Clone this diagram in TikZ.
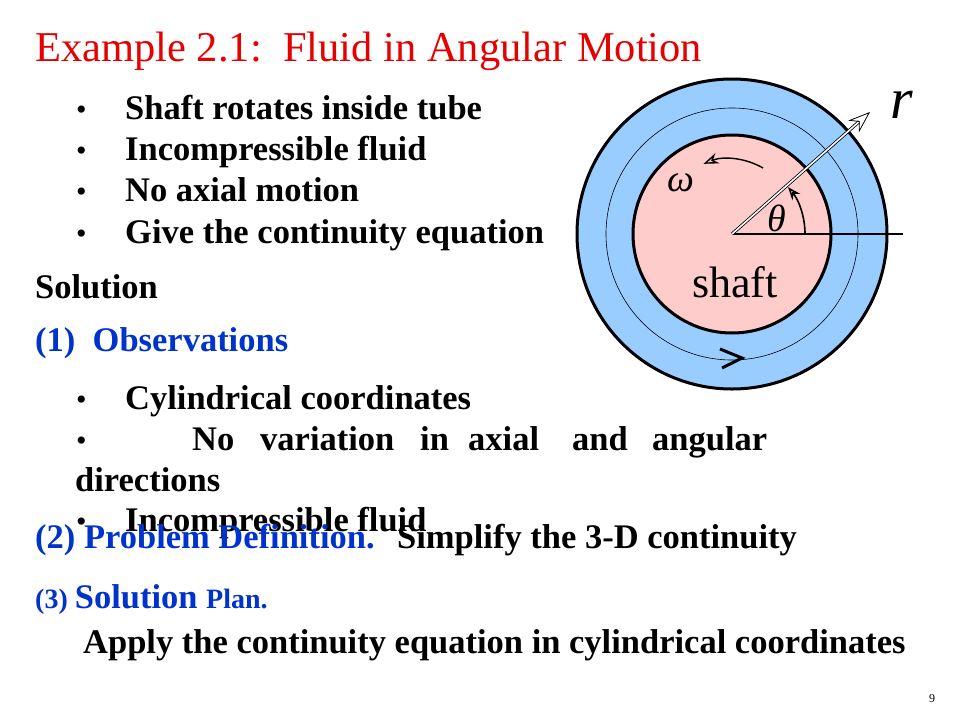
\documentclass[tikz,border=0pt]{standalone}
\usepackage{fontspec}
\setmainfont{Liberation Serif}
\usetikzlibrary{arrows.meta}
\definecolor{ttl}{RGB}{230,0,0}
\definecolor{bl}{RGB}{0,51,204}
\definecolor{ring}{RGB}{153,204,255}
\definecolor{pinkf}{RGB}{255,204,204}
\begin{document}
\begin{tikzpicture}[x=1pt,y=-1pt,
  txt/.style={anchor=base west,inner sep=0pt,font=\fontsize{34.5}{38}\selectfont\bfseries},
  btxt/.style={txt,text=bl},
  bul/.style={anchor=base west,inner sep=0pt,font=\fontsize{30}{30}\selectfont},
  dblarrow/.style={draw=black,double=white,double distance=1.6pt,line width=0.8pt,-{Stealth[open,length=22pt,width=16pt]}}]
\useasboundingbox (0,0) rectangle (960,720);
\node[anchor=base west,inner sep=0pt,text=ttl,font=\fontsize{42.5}{46}\selectfont] (title) at (35,61) {Example 2.1:\ \ Fluid in Angular Motion};
\foreach \y/\t [count=\i] in {119/Shaft rotates inside tube,160/Incompressible fluid,201/No axial motion,243/Give the continuity equation}{
  \node[bul] (bb\i) at (76,\y) {•};
  \node[txt] (b\i) at (125,\y) {\t};
}
\node[txt] (sol) at (35,298) {Solution};
\node[btxt] (obs) at (35,351) {(1)\ \ Observations};
\node[bul] (cb1) at (76,409) {•};
\node[txt] (c1) at (125,409) {Cylindrical coordinates};
\node[bul] (cb2) at (76,450) {•};
\foreach \x/\w in {192/No,260/variation,420/in,468/axial,572/and,652/angular}{
  \node[txt] at (\x,450) {\w};
}
\node[txt] (dir) at (75,491) {directions};
\node[bul] (cb3) at (76,531) {•};
\node[txt] (c3) at (125,531) {Incompressible fluid};
\node[btxt] (pd) at (35,548) {(2) Problem Definition.};
\node[txt] (pd2) at (397,548) {Simplify\ the 3-D continuity};
\node[anchor=base west,inner sep=0pt,text=bl,font=\fontsize{28}{32}\selectfont\bfseries] (sp) at (35,608) {(3) \fontsize{34.5}{38}\selectfont Solution \fontsize{28}{32}\selectfont Plan.};
\node[txt] (ap) at (83,653) {Apply the continuity equation in cylindrical coordinates};
\node[anchor=base west,inner sep=0pt,font=\fontsize{12}{12}\selectfont] (pg) at (929,702) {9};
% diagram
\coordinate (c) at (732,234);
\fill[ring,draw=black,line width=3pt] (c) circle (155);
\draw[black,line width=0.6pt] (c) circle (126);
\fill[pinkf,draw=black,line width=3pt] (c) circle (99);
\draw[line width=1.6pt] (c) -- (903,234);
\coordinate (rt) at (870,112);
\draw[dblarrow] (c) -- (rt);
\node[inner sep=0pt,font=\fontsize{58}{58}\selectfont\itshape] (rl) at (902,105) {r};
\draw[line width=1.6pt,-{Stealth[open,length=13pt,width=10pt]}] ([shift={(0:73)}]c) arc[start angle=0,end angle=-40,radius=73];
\node[inner sep=0pt,font=\fontsize{38}{38}\selectfont\itshape] (th) at (777,218) {θ};
\draw[line width=1.4pt,-{Stealth[open,length=15pt,width=11pt]}] (763,168) arc[start angle=-60,end angle=-112,radius=68];
\node[inner sep=0pt,font=\fontsize{38}{38}\selectfont\itshape] (om) at (681,183) {ω};
\node[inner sep=0pt,font=\fontsize{44}{44}\selectfont] (sh) at (735,282) {shaft};
\draw[line width=3pt] (720,349) -- (742,358) -- (722,368);
\end{tikzpicture}
\end{document}
